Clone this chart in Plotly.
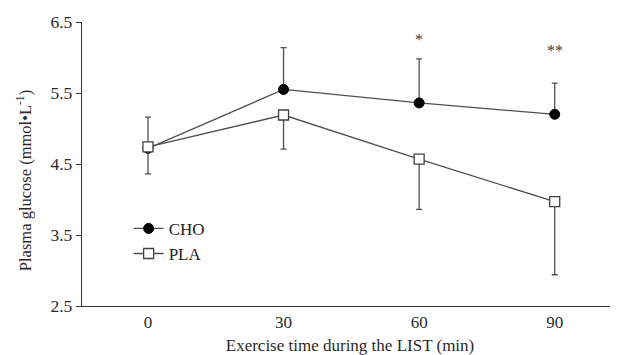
import plotly.graph_objects as go

time_min = [0, 30, 60, 90]
cho_mean = [4.72, 5.55, 5.36, 5.20]
cho_err = [0.44, 0.59, 0.62, 0.44]
pla_mean = [4.74, 5.19, 4.57, 3.97]
pla_err = [0.38, 0.48, 0.71, 1.03]
sig_x = [60, 90]
sig_y = [6.25, 6.10]
sig_labels = ["*", "**"]
y_ticks = [2.5, 3.5, 4.5, 5.5, 6.5]
x_ticks = [0, 30, 60, 90]
y_title = "Plasma glucose (mmol•L<sup>-1</sup>)"
x_title = "Exercise time during the LIST (min)"

line_col = "#505050"
serif = "Liberation Serif, Times New Roman, serif"
txt_col = "#2a2a2a"
font = dict(family=serif, size=17, color=txt_col)

fig = go.Figure()
fig.add_trace(go.Scatter(
    x=time_min, y=cho_mean, name="CHO", mode="lines+markers",
    line=dict(color=line_col, width=1.3),
    marker=dict(symbol="circle", size=10, color="#000000", line=dict(color="#000000", width=1)),
    error_y=dict(type="data", array=cho_err, arrayminus=[0]*len(cho_err), symmetric=False,
                 color=line_col, thickness=1.3, width=3),
))
fig.add_trace(go.Scatter(
    x=time_min, y=pla_mean, name="PLA", mode="lines+markers",
    line=dict(color=line_col, width=1.3),
    marker=dict(symbol="square", size=10, color="#ffffff", line=dict(color="#404040", width=1.3)),
    error_y=dict(type="data", array=[0]*len(pla_err), arrayminus=pla_err, symmetric=False,
                 color=line_col, thickness=1.3, width=3),
))

for xs, ys, lab in zip(sig_x, sig_y, sig_labels):
    fig.add_annotation(x=xs, y=ys, text=lab, showarrow=False,
                       font=dict(family=serif, size=16, color="#3a3a3a"))

fig.add_annotation(xref="paper", yref="paper", x=-0.108, y=0.44, xanchor="center", yanchor="middle",
                   text=y_title, textangle=-90, showarrow=False,
                   font=dict(family=serif, size=16.5, color=txt_col))

fig.update_layout(
    width=610, height=347,
    margin=dict(l=74, r=0, t=14, b=49),
    paper_bgcolor="white", plot_bgcolor="white",
    font=font,
    showlegend=True,
    legend=dict(x=0.087, y=0.335, xanchor="left", yanchor="top",
                bgcolor="rgba(0,0,0,0)", font=dict(family=serif, size=17, color="#222"),
                itemwidth=30, tracegroupgap=0),
)
fig.update_xaxes(
    range=[-14.6, 104], tickvals=x_ticks, ticks="", showgrid=False, zeroline=False,
    showline=True, linecolor="#333333", linewidth=1.3, automargin=False,
    tickfont=dict(family=serif, size=17, color=txt_col),
    title=dict(text=x_title, standoff=12,
               font=dict(family=serif, size=17, color=txt_col)),
)
fig.update_yaxes(
    range=[2.5, 6.5], tickvals=y_ticks, tickformat=".1f", ticks="outside", ticklen=5,
    tickcolor="#333333", showgrid=False, zeroline=False, automargin=False,
    showline=True, linecolor="#333333", linewidth=1.3,
    tickfont=dict(family=serif, size=17.5, color=txt_col),
)

fig.write_html("out.html")
